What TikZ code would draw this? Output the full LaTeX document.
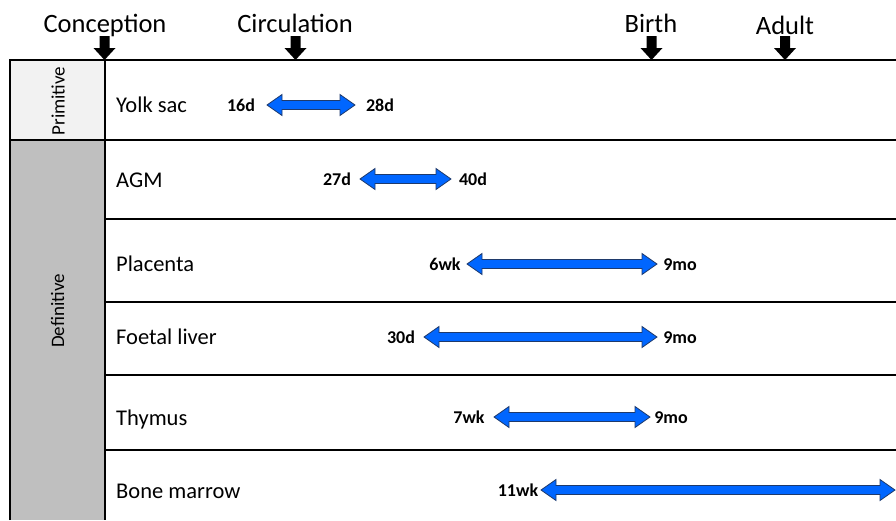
\documentclass[tikz,border=0pt]{standalone}
\usepackage{fontspec}
\setmainfont{Carlito}
\usetikzlibrary{calc}
\definecolor{arrowblue}{HTML}{0066FF}
\definecolor{arrowedge}{HTML}{1F3A6B}
\definecolor{primfill}{HTML}{F2F2F2}
\definecolor{deffill}{HTML}{BFBFBF}
\tikzset{
  rule/.style={line width=2.2pt, black},
  hdr/.style={font=\fontsize{26.5}{30}\selectfont, anchor=base, inner sep=0pt},
  organ/.style={font=\fontsize{22.5}{26}\selectfont, anchor=base west, inner sep=0pt},
  age/.style={font=\fontsize{18}{20}\selectfont\bfseries, anchor=base, inner sep=0pt},
  phase/.style={font=\fontsize{19}{22}\selectfont, rotate=90, inner sep=0pt},
  blockdown/.style={fill=black},
  spanarrow/.style={fill=arrowblue, draw=arrowedge, line width=0.8pt, line join=miter},
}
\newcommand\downblock[1]{\path[blockdown] let \p1=(#1) in
  (\x1,\y1) -- (\x1-11pt,\y1+12pt) -- (\x1-5pt,\y1+12pt) -- (\x1-5pt,\y1+24pt)
  -- (\x1+5pt,\y1+24pt) -- (\x1+5pt,\y1+12pt) -- (\x1+11pt,\y1+12pt) -- cycle;}
\newcommand\spanarr[2]{\path[spanarrow] let \p1=(#1), \p2=(#2) in
  (\x1,\y1) -- (\x1+15pt,\y1+10.5pt) -- (\x1+15pt,\y1+4.5pt) -- (\x2-15pt,\y2+4.5pt)
  -- (\x2-15pt,\y2+10.5pt) -- (\x2,\y2) -- (\x2-15pt,\y2-10.5pt) -- (\x2-15pt,\y2-4.5pt)
  -- (\x1+15pt,\y1-4.5pt) -- (\x1+15pt,\y1-10.5pt) -- cycle;}
\begin{document}
\begin{tikzpicture}[x=1pt,y=-1pt]
\useasboundingbox (0,0) rectangle (896,520);
% left column fills
\fill[primfill] (10,60) rectangle (105,140);
\fill[deffill] (10,140) rectangle (105,520);
% rules
\draw[rule] (10,520) -- (10,60) -- (896,60);
\draw[rule] (105,60) -- (105,520);
\draw[rule] (10,140) -- (896,140);
\draw[rule] (105,219) -- (896,219);
\draw[rule] (105,302) -- (896,302);
\draw[rule] (105,375) -- (896,375);
\draw[rule] (105,450) -- (896,450);
% phase labels
\node[phase] (prim) at (58,101) {Primitive};
\node[phase] (defin) at (57.5,311) {Definitive};
% header labels and arrows
\node[hdr] (conc) at (105,32) {Conception};
\node[hdr] (circ) at (295,32) {Circulation};
\node[hdr] (birth) at (651,32) {Birth};
\node[hdr] (adult) at (785,34) {Adult};
\coordinate (tconc) at (104.5,60);
\coordinate (tcirc) at (295.5,60);
\coordinate (tbirth) at (651.5,60);
\coordinate (tadult) at (785,60);
\downblock{tconc}
\downblock{tcirc}
\downblock{tbirth}
\downblock{tadult}
% organ labels
\node[organ] (yolk) at (116,112) {Yolk sac};
\node[organ] (agm) at (116,187) {AGM};
\node[organ] (plac) at (116,271) {Placenta};
\node[organ] (liver) at (116,344) {Foetal liver};
\node[organ] (thym) at (116,425) {Thymus};
\node[organ] (bone) at (116,498) {Bone marrow};
% yolk sac
\node[age] (ys1) at (241,111) {16d};
\node[age] (ys2) at (380,111) {28d};
\coordinate (ysa) at (267,105); \coordinate (ysb) at (355,105);
\spanarr{ysa}{ysb}
% AGM
\node[age] (ag1) at (337,185) {27d};
\node[age] (ag2) at (473,185) {40d};
\coordinate (aga) at (360,179); \coordinate (agb) at (451,179);
\spanarr{aga}{agb}
% placenta
\node[age] (pl1) at (445,270) {6wk};
\node[age] (pl2) at (680,270) {9mo};
\coordinate (pla) at (467,264); \coordinate (plb) at (657,264);
\spanarr{pla}{plb}
% foetal liver
\node[age] (fl1) at (401,343) {30d};
\node[age] (fl2) at (680,343) {9mo};
\coordinate (fla) at (424,337); \coordinate (flb) at (657,337);
\spanarr{fla}{flb}
% thymus
\node[age] (th1) at (469,423) {7wk};
\node[age] (th2) at (671,423) {9mo};
\coordinate (tha) at (494,417); \coordinate (thb) at (650,417);
\spanarr{tha}{thb}
% bone marrow
\node[age] (bm1) at (518,496) {11wk};
\coordinate (bma) at (541,490); \coordinate (bmb) at (895,490);
\spanarr{bma}{bmb}
\end{tikzpicture}
\end{document}
